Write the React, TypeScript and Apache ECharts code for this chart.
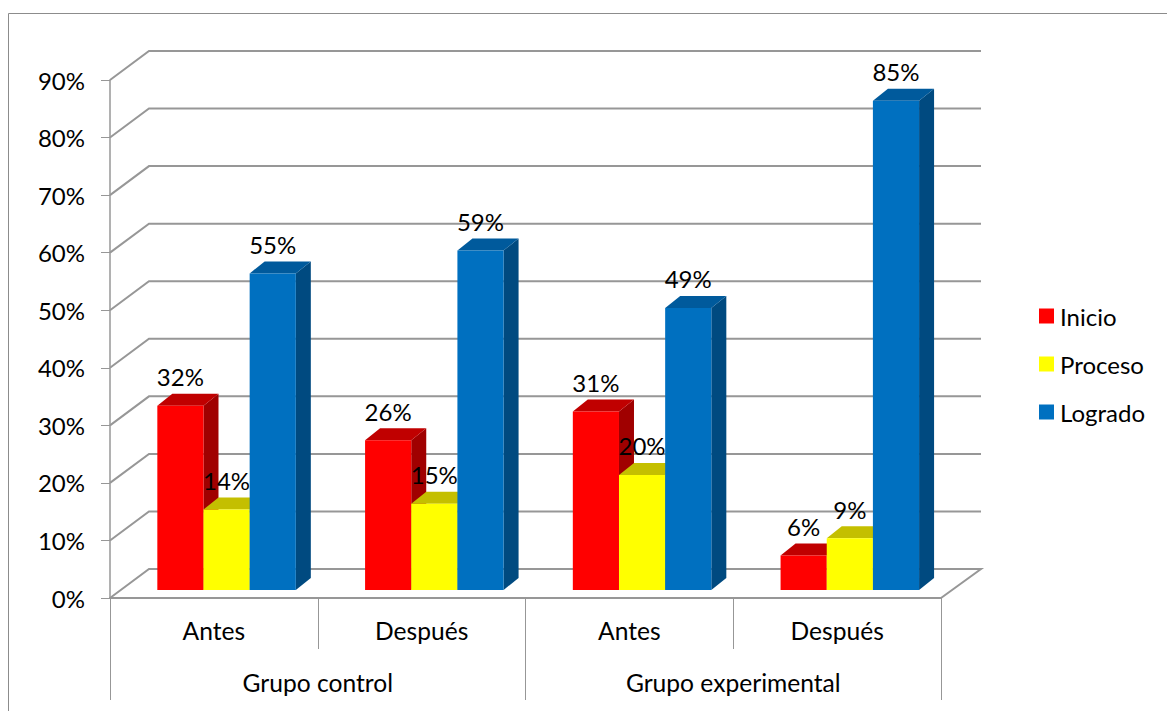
import React, { useEffect, useRef } from "react";
import * as echarts from "echarts";

const categories = ["Antes", "Después", "Antes", "Después"];
const groups = ["Grupo control", "Grupo experimental"];
const inicio = [32, 26, 31, 6];
const proceso = [14, 15, 20, 9];
const logrado = [55, 59, 49, 85];
const gridTicks = [0, 10, 20, 30, 40, 50, 60, 70, 80, 90];

const FONT = "Lato, 'Open Sans', sans-serif";
const FONT_SIZE = 24;
const AXIS_FONT_SIZE = 24.6;
const GRAY = "#979797";
const DEPTH_X = 39;
const DEPTH_Y = 29;
const BAR_DX = 15;
const BAR_DY = 12;
const BASE_LIFT = 8;
const BAND_SHIFT = 12.7;

function barSeries(
  name: string,
  values: number[],
  slot: number,
  front: string,
  top: string,
  side: string
) {
  return {
    type: "custom",
    name,
    z: 3 + slot,
    clip: false,
    silent: true,
    itemStyle: { color: front },
    encode: { x: 0, y: 1 },
    data: values.map((v, i) => [i, v]),
    renderItem: (_p: any, api: any) => {
      const idx = api.value(0);
      const val = api.value(1);
      const head = api.coord([idx, val]);
      const base = api.coord([idx, 0]);
      const band = api.size([1, 0])[0];
      const w = band / 4.5;
      const x0 = head[0] + BAND_SHIFT + (slot - 1.5) * w;
      const x1 = x0 + w;
      const yTop = head[1] - BASE_LIFT;
      const yBase = base[1] - BASE_LIFT;
      return {
        type: "group",
        children: [
          {
            type: "polygon",
            shape: {
              points: [
                [x1, yTop],
                [x1 + BAR_DX, yTop - BAR_DY],
                [x1 + BAR_DX, yBase - BAR_DY],
                [x1, yBase],
              ],
            },
            style: { fill: side },
          },
          {
            type: "polygon",
            shape: {
              points: [
                [x0, yTop],
                [x0 + BAR_DX, yTop - BAR_DY],
                [x1 + BAR_DX, yTop - BAR_DY],
                [x1, yTop],
              ],
            },
            style: { fill: top },
          },
          {
            type: "rect",
            shape: { x: x0, y: yTop, width: w, height: yBase - yTop },
            style: { fill: front },
          },
          {
            type: "text",
            z2: 50,
            style: {
              text: val + "%",
              x: x0 + w / 2,
              y: yTop - 29,
              align: "center",
              verticalAlign: "middle",
              fontSize: FONT_SIZE,
              fontFamily: FONT,
              fill: "#000",
            },
          },
        ],
      };
    },
  };
}

export default function App() {
  const ref = useRef<HTMLDivElement>(null);
  useEffect(() => {
    const chart = echarts.init(ref.current!, null, { renderer: "svg" });
    chart.setOption({
      animation: false,
      backgroundColor: "#fff",
      grid: { left: 110, right: 226, top: 80, bottom: 113, containLabel: false },
      legend: {
        data: ["Inicio", "Proceso", "Logrado"],
        orient: "vertical",
        left: 1034,
        top: 296,
        icon: "rect",
        itemWidth: 15,
        itemHeight: 15,
        itemGap: 18,
        selectedMode: false,
        textStyle: {
          fontSize: FONT_SIZE,
          fontFamily: FONT,
          color: "#000",
          padding: [0, 0, 0, 1],
          lineHeight: 30,
        },
      },
      xAxis: [
        {
          type: "category",
          position: "bottom",
          data: categories,
          axisLine: { show: true, lineStyle: { color: GRAY, width: 2 } },
          axisTick: { show: true, length: 51, lineStyle: { color: GRAY, width: 1 } },
          axisLabel: { margin: 20, fontSize: AXIS_FONT_SIZE, fontFamily: FONT, color: "#000" },
          splitLine: { show: false },
        },
        {
          type: "category",
          position: "bottom",
          data: groups,
          axisLine: { show: false },
          axisTick: { show: true, length: 102, lineStyle: { color: GRAY, width: 1 } },
          axisLabel: { margin: 72, fontSize: AXIS_FONT_SIZE, fontFamily: FONT, color: "#000" },
          splitLine: { show: false },
        },
      ],
      yAxis: {
        type: "value",
        min: 0,
        max: 90,
        interval: 10,
        axisLine: { show: true, lineStyle: { color: GRAY, width: 1.5 } },
        axisTick: { show: true, length: 9, lineStyle: { color: GRAY, width: 1 } },
        axisLabel: {
          margin: 25,
          fontSize: FONT_SIZE,
          fontFamily: FONT,
          color: "#000",
          formatter: (v: number) => v + "%",
        },
        splitLine: { show: false },
      },
      series: [
        {
          type: "custom",
          name: "walls",
          z: 1,
          clip: false,
          silent: true,
          encode: { x: 0, y: 1 },
          data: gridTicks.map((t) => [0, t]),
          renderItem: (p: any, api: any) => {
            const v = api.value(1);
            const y = api.coord([0, v])[1];
            const sys = p.coordSys;
            const left = sys.x;
            const right = sys.x + sys.width;
            const pts = [
              [left, y],
              [left + DEPTH_X, y - DEPTH_Y],
              [right + DEPTH_X + 1, y - DEPTH_Y],
            ];
            if (v === 0) pts.push([right, y]);
            return {
              type: "polyline",
              shape: { points: pts },
              style: { stroke: GRAY, lineWidth: 2, fill: "none" },
            };
          },
        },
        barSeries("Inicio", inicio, 0, "#FF0000", "#C00000", "#A00000"),
        barSeries("Proceso", proceso, 1, "#FFFF00", "#C4BF00", "#A3A000"),
        barSeries("Logrado", logrado, 2, "#0070C0", "#005A9C", "#004A80"),
      ],
      graphic: [
        {
          type: "polyline",
          shape: {
            points: [
              [8.5, 711],
              [8.5, 13.5],
              [1167, 13.5],
            ],
          },
          style: { stroke: "#8c8c8c", lineWidth: 1, fill: "none" },
          silent: true,
        },
      ],
    });
    return () => chart.dispose();
  }, []);
  return (
    <div
      ref={ref}
      style={{ position: "fixed", left: 0, top: 0, width: 1167, height: 711 }}
    />
  );
}
